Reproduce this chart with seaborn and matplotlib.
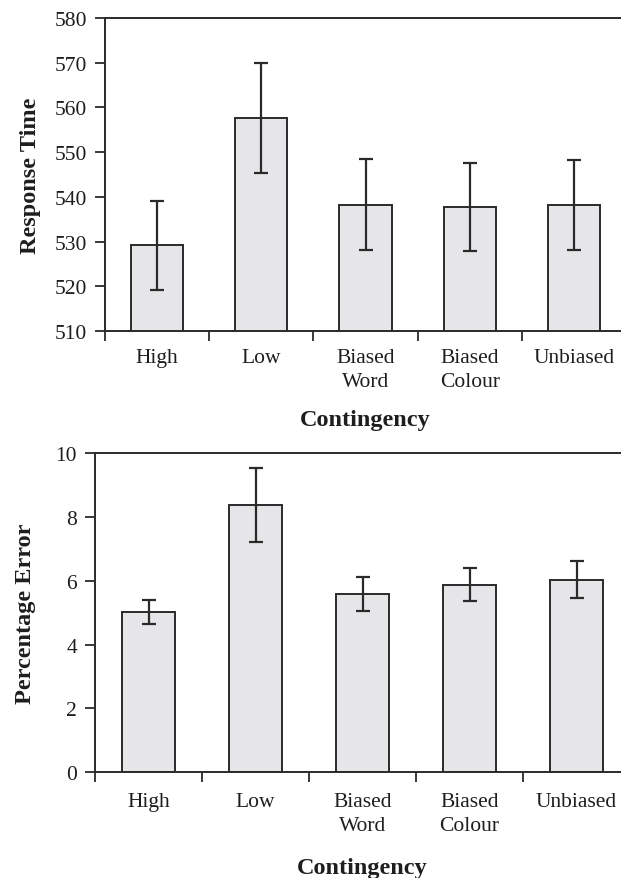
import matplotlib
matplotlib.use("Agg")
import matplotlib.pyplot as plt
import seaborn as sns
import numpy as np
import pandas as pd

categories = ["High", "Low", "Biased\nWord", "Biased\nColour", "Unbiased"]

rt_mean = [529.2, 557.7, 538.2, 537.7, 538.2]
rt_low = [519.2, 545.3, 528.1, 527.8, 528.1]
rt_high = [539.0, 569.9, 548.5, 547.5, 548.3]
rt_ticks = [510, 520, 530, 540, 550, 560, 570, 580]

pe_mean = [5.02, 8.36, 5.58, 5.88, 6.02]
pe_low = [4.64, 7.21, 5.04, 5.37, 5.46]
pe_high = [5.39, 9.52, 6.11, 6.40, 6.61]
pe_ticks = [0, 2, 4, 6, 8, 10]

sns.set_theme(style="white")
plt.rcParams["font.family"] = ["Liberation Serif", "DejaVu Serif"]

fig = plt.figure(figsize=(6.21, 8.79), dpi=100)

W, H = 621, 879
def axrect(l, r, t, b):
    return [l / W, 1 - b / H, (r - l) / W, (b - t) / H]

ax1 = fig.add_axes(axrect(105, 626, 19, 332))
ax2 = fig.add_axes(axrect(95, 630, 454, 773.3))

face = "#e6e6e8"
edge = "#2a2a2a"

def draw(ax, mean, lo, hi, ticks, ylabel, ylim, ypad, xpad, tpad):
    df = pd.DataFrame({"cat": categories, "val": mean})
    sns.barplot(data=df, x="cat", y="val", order=categories, color=face,
                edgecolor=edge, linewidth=1.4, width=0.5, errorbar=None,
                saturation=1, ax=ax)
    for p in ax.patches:
        p.set_facecolor(face)
    m = np.array(mean)
    yerr = [m - np.array(lo), np.array(hi) - m]
    ax.errorbar(np.arange(len(categories)), m, yerr=yerr, fmt="none",
                ecolor=edge, elinewidth=1.6, capsize=4.7, capthick=1.6, zorder=5)
    ax.set_xlim(-0.5, len(categories) - 0.5)
    ax.set_ylim(*ylim)
    ax.set_yticks(ticks)
    ax.set_yticklabels([str(t) for t in ticks], fontsize=15.5)
    # tick marks at boundaries, labels at centres
    ax.set_xticks(np.arange(len(categories)) - 0.5)
    ax.set_xticklabels([])
    ax.set_xticks(np.arange(len(categories)), minor=True)
    ax.set_xticklabels(categories, minor=True, fontsize=15.5, linespacing=1.35)
    ax.tick_params(axis="x", which="major", direction="out", length=7,
                   width=1.3, color=edge, bottom=True)
    ax.tick_params(axis="x", which="minor", length=0, pad=tpad, bottom=True)
    ax.tick_params(axis="y", direction="out", length=7, width=1.3,
                   color=edge, left=True, pad=6, labelcolor="#1e1e1e")
    ax.tick_params(axis="x", which="minor", labelcolor="#1e1e1e")
    for s in ["left", "bottom", "top"]:
        ax.spines[s].set_visible(True)
        ax.spines[s].set_color(edge)
        ax.spines[s].set_linewidth(1.4)
    ax.spines["right"].set_visible(False)
    ax.set_xlabel("Contingency", fontsize=17.5, fontweight="bold",
                  color="#1e1e1e", labelpad=xpad)
    ax.set_ylabel(ylabel, fontsize=17.5, fontweight="bold",
                  color="#1e1e1e", labelpad=ypad)
    ax.grid(False)

draw(ax1, rt_mean, rt_low, rt_high, rt_ticks, "Response Time", (510, 580), 10, 13, 12)
draw(ax2, pe_mean, pe_low, pe_high, pe_ticks, "Percentage Error", (0, 10), 14, 16, 14)

fig.savefig("out.png", dpi=100)
